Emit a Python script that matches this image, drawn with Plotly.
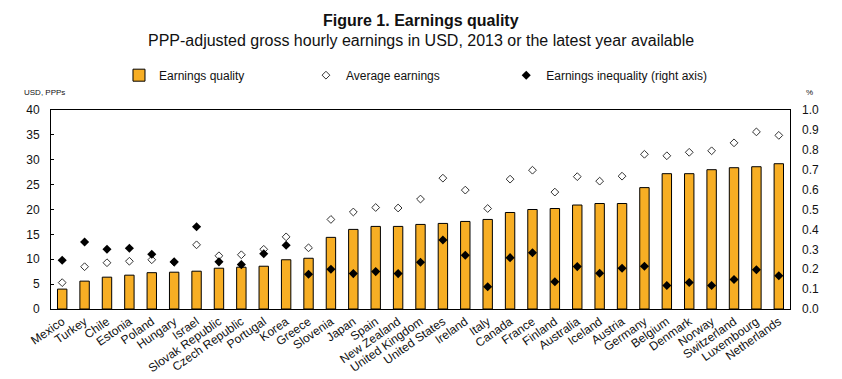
import plotly.graph_objects as go

countries = ["Mexico", "Turkey", "Chile", "Estonia", "Poland", "Hungary", "Israel",
             "Slovak Republic", "Czech Republic", "Portugal", "Korea", "Greece", "Slovenia",
             "Japan", "Spain", "New Zealand", "United Kingdom", "United States", "Ireland",
             "Italy", "Canada", "France", "Finland", "Australia", "Iceland", "Austria",
             "Germany", "Belgium", "Denmark", "Norway", "Switzerland", "Luxembourg", "Netherlands"]

earnings_quality = [4.0, 5.6, 6.4, 6.8, 7.3, 7.4, 7.6, 8.2, 8.4, 8.6, 9.9, 10.2, 14.4,
                    16.0, 16.6, 16.6, 17.0, 17.2, 17.6, 18.0, 19.4, 20.0, 20.2, 20.9, 21.2,
                    21.2, 24.4, 27.2, 27.2, 28.0, 28.4, 28.6, 29.2]

average_earnings = [5.3, 8.5, 9.3, 9.6, 9.9, 9.4, 12.9, 10.7, 10.9, 12.0, 14.5, 12.3, 18.0,
                    19.5, 20.4, 20.3, 22.1, 26.3, 23.9, 20.2, 26.1, 27.9, 23.5, 26.6, 25.7,
                    26.7, 31.1, 30.8, 31.5, 31.8, 33.4, 35.6, 34.9]

earnings_inequality = [0.245, 0.337, 0.300, 0.305, 0.275, 0.237, 0.413, 0.237, 0.223, 0.278,
                       0.320, 0.175, 0.200, 0.178, 0.188, 0.178, 0.235, 0.347, 0.270, 0.112,
                       0.258, 0.283, 0.137, 0.213, 0.180, 0.205, 0.215, 0.118, 0.133, 0.118,
                       0.148, 0.197, 0.167]

left_ticks = [0, 5, 10, 15, 20, 25, 30, 35, 40]
right_ticks = [0.0, 0.1, 0.2, 0.3, 0.4, 0.5, 0.6, 0.7, 0.8, 0.9, 1.0]

FONT = "Arial, Liberation Sans, Helvetica, sans-serif"
TXT = "#111111"

fig = go.Figure()
fig.add_trace(go.Bar(
    x=countries, y=earnings_quality, name="Earnings quality", legend="legend",
    marker=dict(color="#F7AE24", line=dict(color="black", width=1)),
    width=0.42,
))
fig.add_trace(go.Scatter(
    x=countries, y=average_earnings, name="Average earnings", mode="markers",
    legend="legend2",
    marker=dict(symbol="diamond-open", size=6, color="#333333", line=dict(width=1)),
))
fig.add_trace(go.Scatter(
    x=countries, y=earnings_inequality, name="Earnings inequality (right axis)",
    mode="markers", yaxis="y2", legend="legend3",
    marker=dict(symbol="diamond", size=7, color="black"),
))

leg_common = dict(orientation="h", xanchor="left", y=1.175, yanchor="middle",
                  font=dict(size=12, family=FONT, color=TXT),
                  itemwidth=30, bgcolor="rgba(0,0,0,0)")

fig.update_layout(
    width=842, height=379,
    margin=dict(l=51, r=52, t=109.5, b=69.5, autoexpand=False),
    paper_bgcolor="white", plot_bgcolor="white",
    font=dict(family=FONT, color=TXT, size=12),
    showlegend=True,
    legend=dict(x=0.092, **leg_common),
    legend2=dict(x=0.345, **leg_common),
    legend3=dict(x=0.616, **leg_common),
    xaxis=dict(
        tickangle=-35, tickfont=dict(size=12, family=FONT, color=TXT),
        showline=True, linecolor="black", linewidth=1, mirror=True,
        showgrid=False, ticks="", range=[-0.5, len(countries) - 0.5],
        automargin=False,
    ),
    yaxis=dict(
        range=[0, 40], tickvals=left_ticks, showgrid=False, zeroline=False,
        showline=True, linecolor="black", linewidth=1, mirror=True,
        ticks="inside", ticklen=3, tickcolor="black", ticklabelstandoff=8,
        tickfont=dict(size=12, family=FONT, color=TXT), automargin=False,
    ),
    yaxis2=dict(
        range=[0, 1.0], tickvals=right_ticks, tickformat=".1f",
        overlaying="y", side="right", showgrid=False, zeroline=False,
        ticks="", ticklabelstandoff=11,
        tickfont=dict(size=12, family=FONT, color=TXT), automargin=False,
    ),
    annotations=[
        dict(text="<b>Figure 1. Earnings quality</b>", xref="paper", yref="paper",
             x=0.5, y=(309.5 - 20) / 200, xanchor="center", yanchor="middle",
             showarrow=False, font=dict(size=16, family=FONT, color=TXT)),
        dict(text="PPP-adjusted gross hourly earnings in USD, 2013 or the latest year available",
             xref="paper", yref="paper", x=0.5, y=(309.5 - 40) / 200,
             xanchor="center", yanchor="middle", showarrow=False,
             font=dict(size=16, family=FONT, color=TXT)),
        dict(text="USD, PPPs", xref="paper", yref="paper", x=-0.039, y=(309.5 - 92) / 200,
             xanchor="left", yanchor="middle", showarrow=False,
             font=dict(size=8, family=FONT, color=TXT)),
        dict(text="%", xref="paper", yref="paper", x=1.019, y=(309.5 - 92) / 200,
             xanchor="left", yanchor="middle", showarrow=False,
             font=dict(size=8, family=FONT, color=TXT)),
    ],
)

fig.write_html(
    "out.html",
    config={"displayModeBar": False},
    post_script="document.body.style.margin='0';document.body.style.padding='0';",
)
